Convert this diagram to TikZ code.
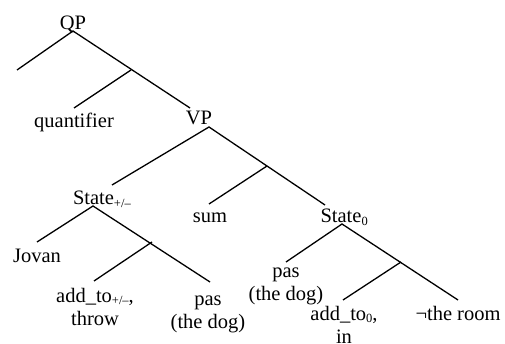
\documentclass[tikz,border=0pt]{standalone}
\usepackage{fontspec}
\setmainfont{Liberation Serif}
\newcommand{\subsc}[1]{\raisebox{-2.5pt}{\fontsize{12.5}{12.5}\selectfont #1}}
\begin{document}
\begin{tikzpicture}[x=1pt,y=-1pt,
  lbl/.style={inner sep=0pt, anchor=base, align=center, font=\fontsize{20.5}{23}\selectfont},
  branch/.style={line width=1.3pt}]
\useasboundingbox (0,0) rectangle (505,344);
% labels (multi-line nodes are placed by the baseline of their last line)
\node[lbl] (qp) at (73,29.5) {QP};
\node[lbl] (quant) at (74,128) {quantifier};
\node[lbl] (vp) at (199,125) {VP};
\node[lbl] (st1) at (93.5,205) {State\rlap{\subsc{+/–}}};
\node[lbl] (sum) at (210,223) {sum};
\node[lbl] (st0) at (341,223) {State\rlap{\subsc{0}}};
\node[lbl] (jovan) at (37,262) {Jovan};
\node[lbl] (add1) at (95,325) {add\_to\subsc{+/–},\\throw};
\node[lbl] (pas1) at (208,328) {pas\\(the dog)};
\node[lbl] (pas2) at (286,300) {pas\\(the dog)};
\node[lbl] (add0) at (344,343) {add\_to\subsc{0},\\in};
\node[lbl] (room) at (458,320) {¬the room};
% branch points
\coordinate (qpA) at (73,31);
\coordinate (qpL) at (17,70);
\coordinate (qpM) at (131,70);
\coordinate (qpQ) at (74,108);
\coordinate (qpR) at (190,108);
\coordinate (vpA) at (209,127);
\coordinate (vpL) at (112,185);
\coordinate (vpM) at (267,166);
\coordinate (vpS) at (209,204);
\coordinate (vpR) at (325,205);
\coordinate (s1A) at (93,206);
\coordinate (s1L) at (37,242);
\coordinate (s1M) at (152,242);
\coordinate (s1a) at (94,281);
\coordinate (s1R) at (210,282);
\coordinate (s0A) at (342,224);
\coordinate (s0L) at (286,262);
\coordinate (s0M) at (401,262);
\coordinate (s0a) at (343,300);
\coordinate (s0R) at (458,300);
% branches
\draw[branch] (qpL) -- (qpA) -- (qpR);
\draw[branch] (qpM) -- (qpQ);
\draw[branch] (vpL) -- (vpA) -- (vpR);
\draw[branch] (vpM) -- (vpS);
\draw[branch] (s1L) -- (s1A) -- (s1R);
\draw[branch] (s1M) -- (s1a);
\draw[branch] (s0L) -- (s0A) -- (s0R);
\draw[branch] (s0M) -- (s0a);
\end{tikzpicture}
\end{document}
